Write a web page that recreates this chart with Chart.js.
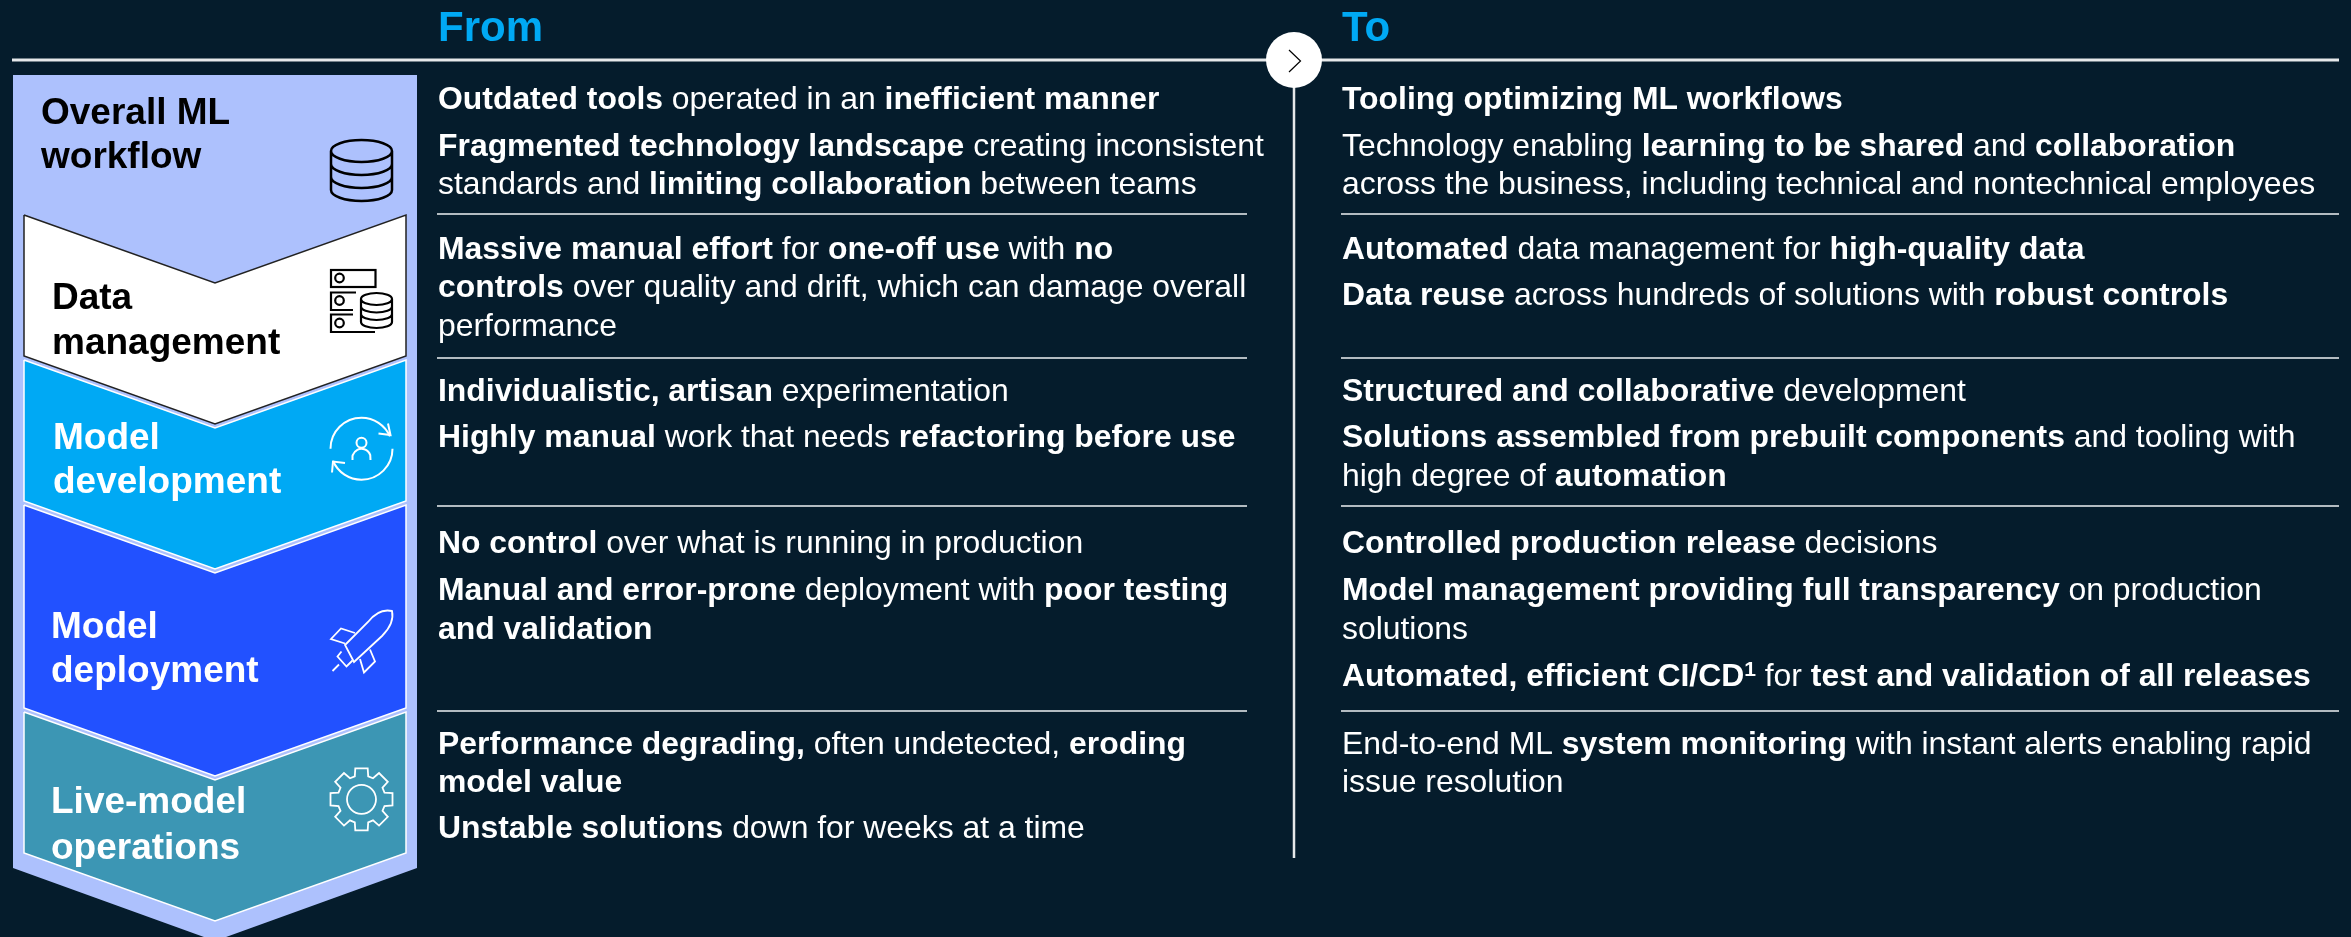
<!DOCTYPE html>
<html>
<head>
<meta charset="utf-8">
<style>
    html, body { margin: 0; padding: 0; background: #051C2C; overflow: hidden; }
    canvas { display: block; }
</style>
<script src="https://cdn.jsdelivr.net/npm/chart.js@4/dist/chart.umd.min.js"></script>
</head>
<body>
<canvas id="chart" width="2351" height="937"></canvas>
<script>
// picture is laid out on a 2351x937 grid, y going down
const stageNames = [
    ["Overall ML", "workflow"],
    ["Data", "management"],
    ["Model", "development"],
    ["Model", "deployment"],
    ["Live-model", "operations"],
];
const stageTextColors = ["#000000", "#000000", "#FFFFFF", "#FFFFFF", "#FFFFFF"];
const stageTextX = [41, 52, 53, 51, 51];
const stageFirstBaselines = [124, 309, 449, 638, 813];
const stageLastBaselines = [168, 354, 493, 682, 859];

// chevrons: top of the side edge, bottom of the side edge (first stage is the backing shape)
const chevronTops = [215, 360, 505, 712];
const chevronBottoms = [356, 501, 708, 853];
const chevronColors = ["#FFFFFF", "#00A9F4", "#2251FF", "#3C96B4"];
const chevronEdges = ["#222222", "#FFFFFF", "#FFFFFF", "#FFFFFF"];

const headers = ["From", "To"];
const headerX = [438, 1342];

const fromLines = [
    "**Outdated tools** operated in an **inefficient manner**",
    "**Fragmented technology landscape** creating inconsistent",
    "standards and **limiting collaboration** between teams",
    "**Massive manual effort** for **one-off use** with **no**",
    "**controls** over quality and drift, which can damage overall",
    "performance",
    "**Individualistic, artisan** experimentation",
    "**Highly manual** work that needs **refactoring before use**",
    "**No control** over what is running in production",
    "**Manual and error-prone** deployment with **poor testing**",
    "**and validation**",
    "**Performance degrading,** often undetected, **eroding**",
    "**model value**",
    "**Unstable solutions** down for weeks at a time",
];
const fromBaselines = [109, 156, 194, 259, 297, 336, 401, 447, 553, 600, 639, 754, 792, 838];

const toLines = [
    "**Tooling optimizing ML workflows**",
    "Technology enabling **learning to be shared** and **collaboration**",
    "across the business, including technical and nontechnical employees",
    "**Automated** data management for **high-quality data**",
    "**Data reuse** across hundreds of solutions with **robust controls**",
    "**Structured and collaborative** development",
    "**Solutions assembled from prebuilt components** and tooling with",
    "high degree of **automation**",
    "**Controlled production release** decisions",
    "**Model management providing full transparency** on production",
    "solutions",
    "**Automated, efficient CI/CD^1^** for **test and validation of all releases**",
    "End-to-end ML **system monitoring** with instant alerts enabling rapid",
    "issue resolution",
];
const toBaselines = [109, 156, 194, 259, 305, 401, 447, 486, 553, 600, 639, 686, 754, 792];

const ruleYs = [214, 358, 506, 711];

const BACKING = "#ADC1FD";
const FONT = '"Liberation Sans", Arial, sans-serif';
const MID_X = 215, LEFT_X = 24, RIGHT_X = 406, DROP = 68;

let chevron = (top, bottom)=>[
    {x: LEFT_X, y: top}, {x: MID_X, y: top+DROP}, {x: RIGHT_X, y: top},
    {x: RIGHT_X, y: bottom}, {x: MID_X, y: bottom+DROP}, {x: LEFT_X, y: bottom}, {x: LEFT_X, y: top},
];
let line = (points, color, width, order)=>({
    data: points, showLine: true, fill: false, borderColor: color, borderWidth: width,
    pointRadius: 0, tension: 0, order: order,
});
let shape = (points, fillColor, edge, width, order)=>({
    data: points, showLine: true, fill: "shape", backgroundColor: fillColor, borderColor: edge,
    borderWidth: width, pointRadius: 0, tension: 0, order: order, borderJoinStyle: "miter",
});

let datasets = [];
datasets.push(shape([
    {x: 13, y: 75}, {x: 417, y: 75}, {x: 417, y: 868}, {x: MID_X, y: 941}, {x: 13, y: 868}, {x: 13, y: 75},
], BACKING, BACKING, 0, 100));
chevronTops.forEach((top, i)=>{
    datasets.push(shape(chevron(top, chevronBottoms[i]), chevronColors[i], chevronEdges[i], 1.5, 90-i));
});
datasets.push(line([{x: 12, y: 60}, {x: 2339, y: 60}], "#E6E8EA", 3, 50));
ruleYs.forEach((y)=>{
    datasets.push(line([{x: 437, y: y}, {x: 1247, y: y}], "#B3BBC1", 2, 50));
    datasets.push(line([{x: 1341, y: y}, {x: 2339, y: y}], "#B3BBC1", 2, 50));
});
datasets.push(line([{x: 1294, y: 60}, {x: 1294, y: 858}], "#E6E8EA", 2.5, 40));
datasets.push({
    data: [{x: 1294, y: 60}], showLine: false, pointRadius: 28, pointBackgroundColor: "#FFFFFF",
    pointBorderWidth: 0, order: 10,
});

// ** toggles bold, ^ toggles superscript
let drawRuns = (ctx, text, x, y, size)=>{
    text.split("**").forEach((run, i)=>{
        let weight = (i%2)?"bold ":"";
        run.split("^").forEach((part, j)=>{
            if(!part) return;
            ctx.font = `${weight}${j%2?size*0.66:size}px ${FONT}`;
            ctx.fillText(part, x, j%2?y-10:y);
            x += ctx.measureText(part).width;
        });
    });
};

let stackPath = (ctx, cx, top, rx, ry, gaps)=>{
    ctx.beginPath();
    ctx.ellipse(cx, top, rx, ry, 0, 0, Math.PI*2);
    let yy = top;
    gaps.forEach((g)=>{
        yy += g;
        ctx.moveTo(cx+rx, yy);
        ctx.ellipse(cx, yy, rx, ry, 0, 0, Math.PI);
    });
    ctx.moveTo(cx-rx, top); ctx.lineTo(cx-rx, yy);
    ctx.moveTo(cx+rx, top); ctx.lineTo(cx+rx, yy);
    ctx.stroke();
};
let polyPath = (ctx, pts, close)=>{
    ctx.beginPath();
    pts.forEach(([x, y], i)=>i?ctx.lineTo(x, y):ctx.moveTo(x, y));
    if(close) ctx.closePath();
    ctx.stroke();
};
let circlePath = (ctx, x, y, r)=>{
    ctx.beginPath();
    ctx.arc(x, y, r, 0, Math.PI*2);
    ctx.stroke();
};
let icons = {
    database: (ctx)=>{
        ctx.strokeStyle = "#000000"; ctx.lineWidth = 2.5;
        stackPath(ctx, 361.5, 151, 30.5, 11, [13, 13, 13]);
    },
    servers: (ctx)=>{
        ctx.strokeStyle = "#000000"; ctx.lineWidth = 2.2;
        ctx.strokeRect(331, 270, 44.5, 17);
        polyPath(ctx, [[356, 292.5], [331, 292.5], [331, 310], [353, 310]]);
        polyPath(ctx, [[353, 314.5], [331, 314.5], [331, 332], [375, 332]]);
        [278, 300.5, 323].forEach((y)=>circlePath(ctx, 339.5, y, 4.3));
        stackPath(ctx, 376.5, 299, 15.5, 6, [7.5, 7.5, 8]);
    },
    cycle: (ctx)=>{
        ctx.strokeStyle = "#FFFFFF"; ctx.lineWidth = 2;
        ctx.beginPath(); ctx.arc(361.5, 448.7, 31, Math.PI, Math.PI*1.87); ctx.stroke();
        ctx.beginPath(); ctx.arc(361.5, 448.7, 31, 0, Math.PI*0.87); ctx.stroke();
        polyPath(ctx, [[378.5, 433.5], [390.5, 435], [388, 423.5]]);
        polyPath(ctx, [[345, 463], [333, 461.5], [332, 472.5]]);
        circlePath(ctx, 361.5, 442.7, 5);
        ctx.beginPath();
        ctx.moveTo(352.5, 460); ctx.lineTo(352.5, 456);
        ctx.arc(361.5, 458, 9.2, Math.PI*1.1, Math.PI*1.9);
        ctx.lineTo(370.5, 460);
        ctx.stroke();
    },
    rocket: (ctx)=>{
        ctx.strokeStyle = "#FFFFFF"; ctx.lineWidth = 1.8;
        ctx.beginPath();
        ctx.moveTo(345, 645);
        ctx.lineTo(368, 622);
        ctx.bezierCurveTo(375, 613, 383, 609, 392, 611);
        ctx.bezierCurveTo(394, 620, 390, 628, 382, 636);
        ctx.lineTo(354, 662);
        ctx.closePath();
        ctx.stroke();
        polyPath(ctx, [[355, 633], [341, 628.5], [331, 639], [345, 643.5]]);
        polyPath(ctx, [[370, 649.5], [375, 661.5], [364, 672.5], [360, 659]]);
        polyPath(ctx, [[341.5, 651.5], [337.5, 656.5], [346.5, 666.5], [352.5, 660.5]]);
        polyPath(ctx, [[332.5, 671], [339, 664.5]]);
    },
    gear: (ctx)=>{
        ctx.strokeStyle = "#FFFFFF"; ctx.lineWidth = 1.8;
        let cx = 361.5, cy = 799.3, teeth = 8, rOut = 31, rIn = 23, half = 6.2;
        ctx.beginPath();
        for(let i=0; i<teeth; i++){
            let a = i*Math.PI*2/teeth - Math.PI/2;
            let ux = Math.cos(a), uy = Math.sin(a), vx = -uy, vy = ux;
            let p = (r, s)=>[cx+ux*r+vx*s, cy+uy*r+vy*s];
            let pts = [p(rIn, -half-0.5), p(rOut, -half), p(rOut, half), p(rIn, half+0.5)];
            pts.forEach(([x, y], j)=>(i==0&&j==0)?ctx.moveTo(x, y):ctx.lineTo(x, y));
        }
        ctx.closePath();
        ctx.stroke();
        circlePath(ctx, cx, cy, 14.5);
    },
};

let overlayPlugin = {
    id: "overlay",
    afterDatasetsDraw: (chart)=>{
        let ctx = chart.ctx;
        let {x: xs, y: ys} = chart.scales;
        ctx.save();
        ctx.textBaseline = "alphabetic";
        ctx.textAlign = "left";

        // arrow inside the round marker
        ctx.strokeStyle = "#000000";
        ctx.lineWidth = 1.2;
        polyPath(ctx, [[1289, 50], [1300.5, 61], [1289, 72]]);

        Object.values(icons).forEach((draw)=>{
            ctx.lineJoin = "miter";
            draw(ctx);
        });

        stageNames.forEach((lines, i)=>{
            ctx.fillStyle = stageTextColors[i];
            ctx.font = `bold 37px ${FONT}`;
            ctx.fillText(lines[0], xs.getPixelForValue(stageTextX[i]), ys.getPixelForValue(stageFirstBaselines[i]));
            ctx.fillText(lines[1], xs.getPixelForValue(stageTextX[i]), ys.getPixelForValue(stageLastBaselines[i]));
        });

        ctx.fillStyle = "#00A9F4";
        ctx.font = `bold 42px ${FONT}`;
        headers.forEach((h, i)=>ctx.fillText(h, xs.getPixelForValue(headerX[i]), ys.getPixelForValue(41)));

        ctx.fillStyle = "#FFFFFF";
        fromLines.forEach((t, i)=>drawRuns(ctx, t, xs.getPixelForValue(headerX[0]), ys.getPixelForValue(fromBaselines[i]), 31.9));
        toLines.forEach((t, i)=>drawRuns(ctx, t, xs.getPixelForValue(headerX[1]), ys.getPixelForValue(toBaselines[i]), 31.9));
        ctx.restore();
    },
};

new Chart(document.getElementById("chart"), {
    type: "scatter",
    data: {datasets: datasets},
    plugins: [overlayPlugin],
    options: {
        responsive: false,
        animation: false,
        layout: {padding: 0, autoPadding: false},
        plugins: {legend: {display: false}, tooltip: {enabled: false}},
        scales: {
            x: {type: "linear", min: 0, max: 2351, display: false},
            y: {type: "linear", min: 0, max: 937, reverse: true, display: false},
        },
    },
});
</script>
</body>
</html>
